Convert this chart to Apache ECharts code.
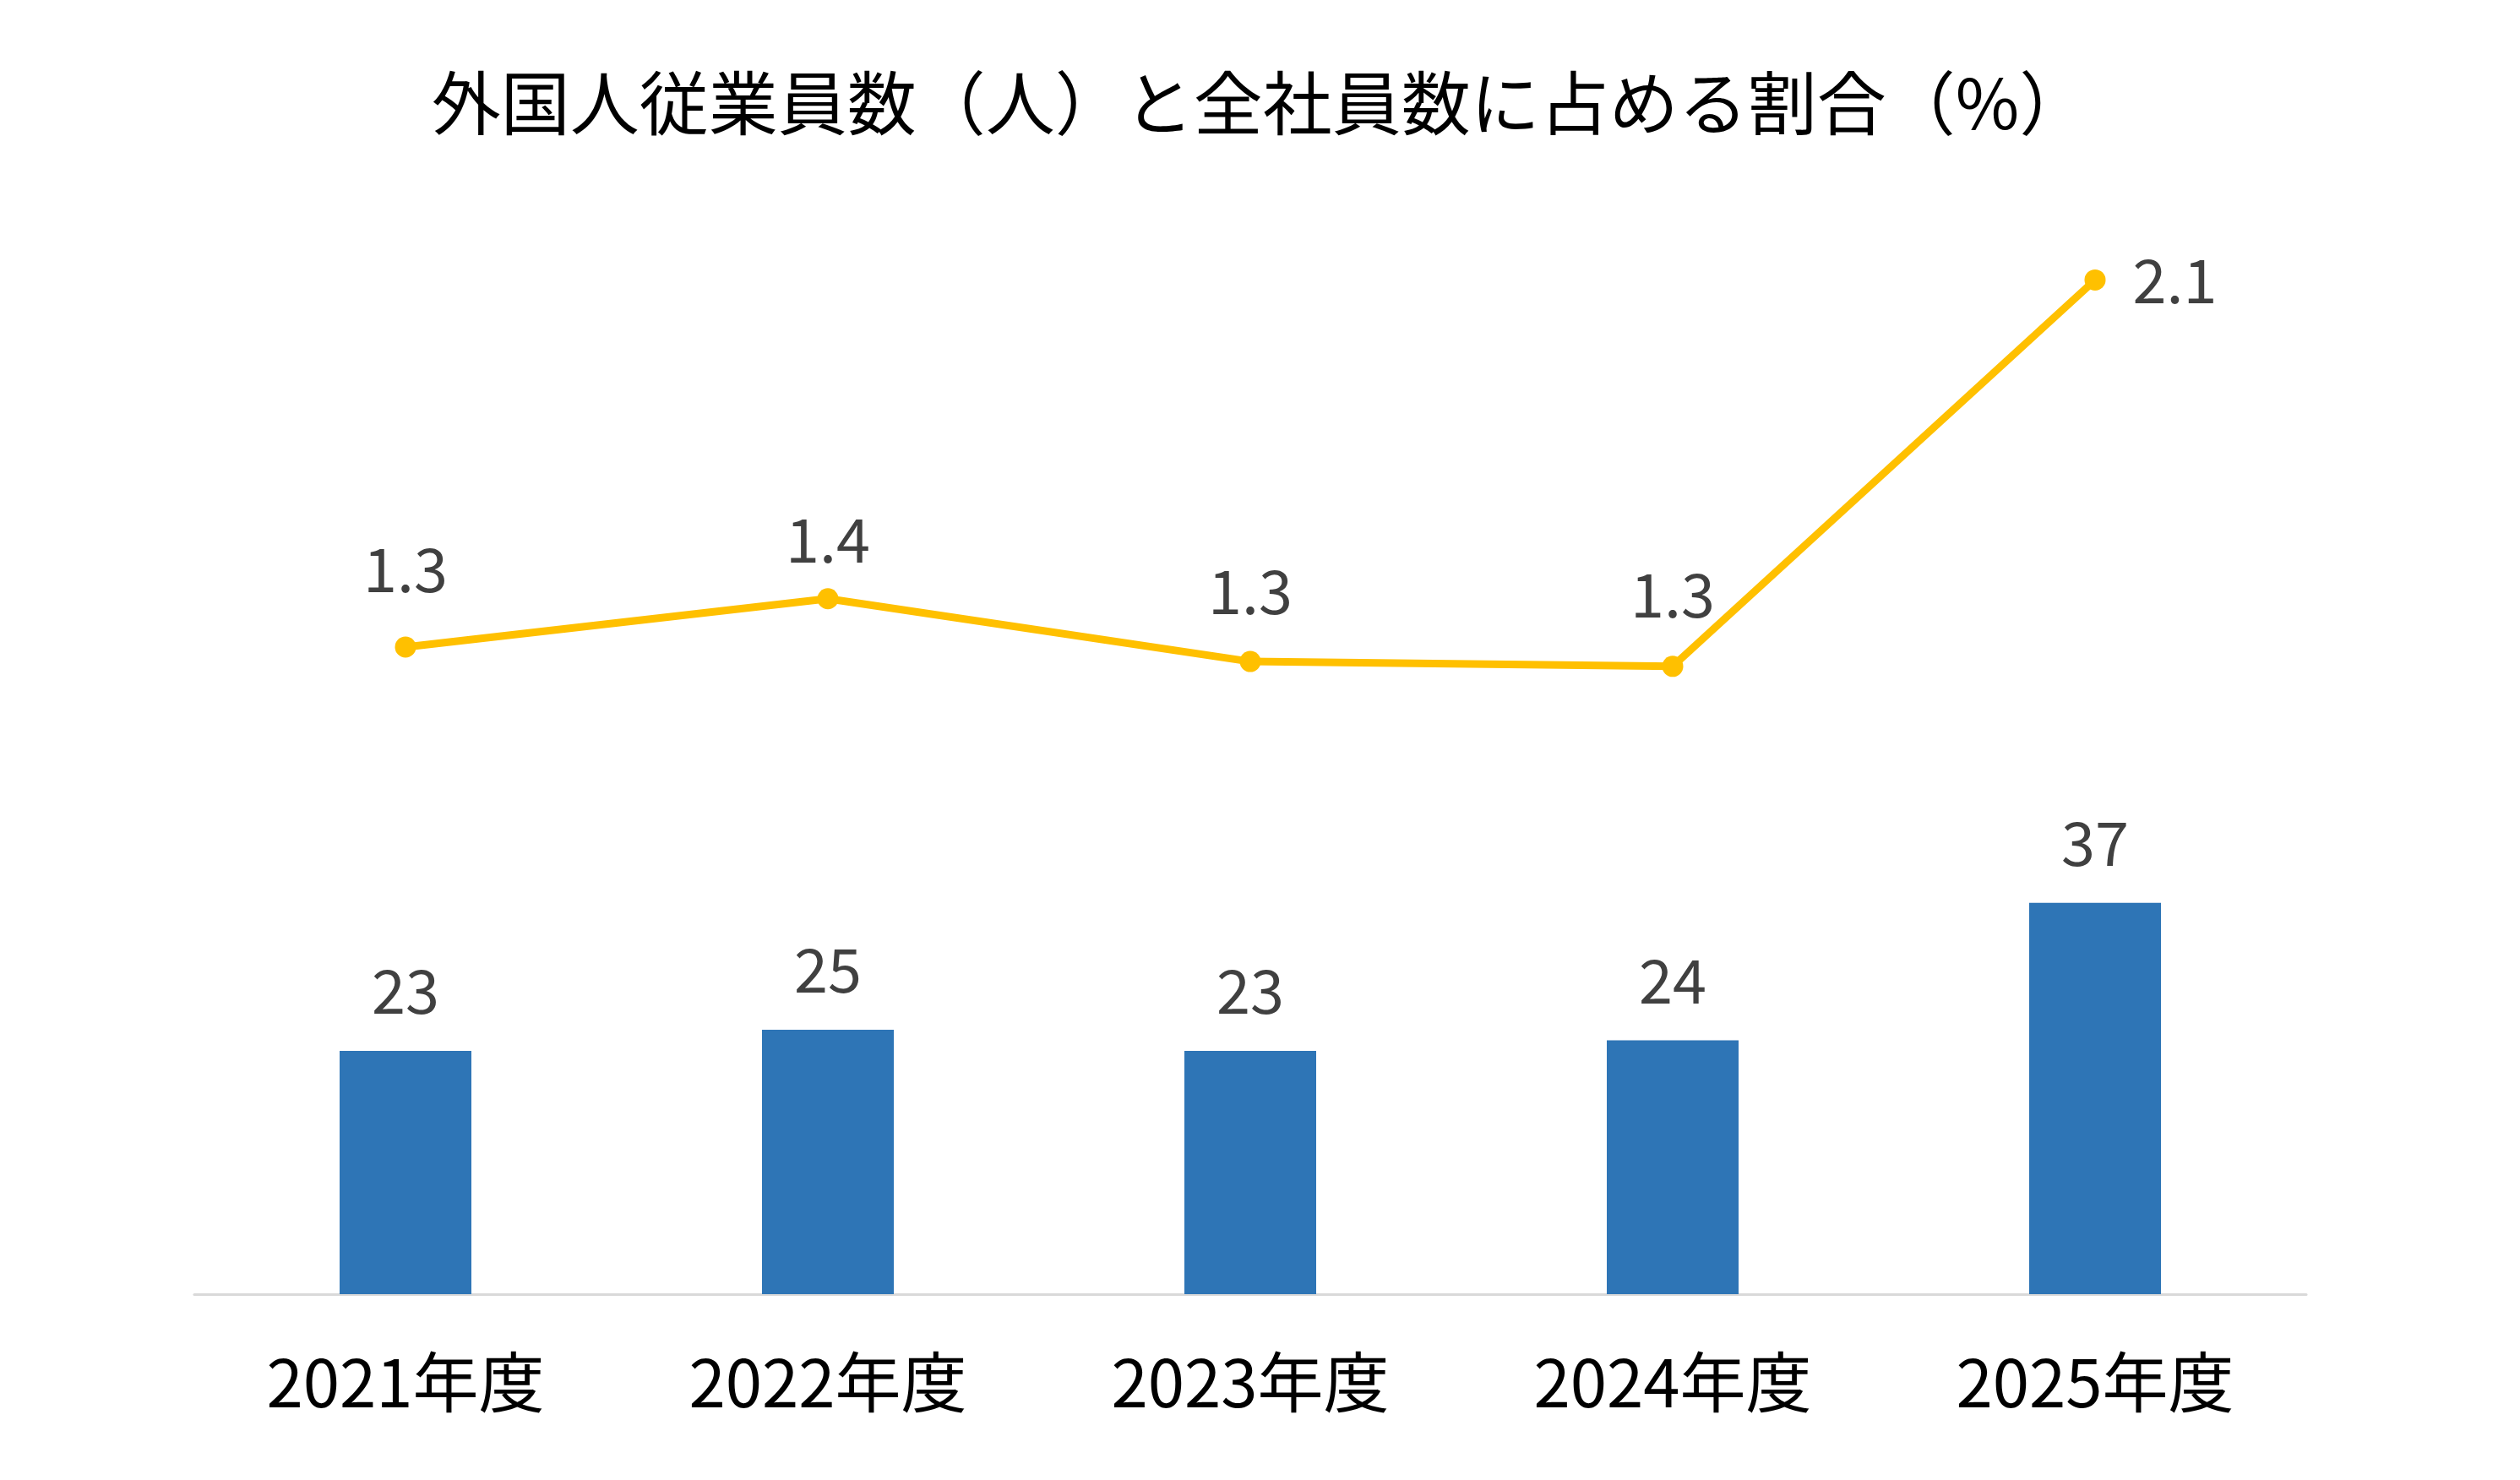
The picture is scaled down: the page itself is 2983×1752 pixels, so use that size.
<!DOCTYPE html>
<html>
<head>
<meta charset="utf-8">
<script src="https://cdn.jsdelivr.net/npm/echarts@6/dist/echarts.min.js"></script>
<style>
  html, body { margin: 0; padding: 0; background: #fff; }
  #main { width: 2983px; height: 1752px; }
</style>
</head>
<body>
<div id="main"></div>
<script>
// 年度
var categories = ['2021年度', '2022年度', '2023年度', '2024年度', '2025年度'];
// 外国人従業員数（人）
var foreignStaff = [23, 25, 23, 24, 37];
// 全社員数に占める割合（%）
var foreignRatio = [1.34, 1.44, 1.31, 1.30, 2.10];

var myChart = echarts.init(document.getElementById('main'));

var FONT = '"Noto Sans CJK JP", "Noto Sans", sans-serif';

// 割合ラベルの位置（元の図に合わせて少しずつ違う）
var ratioLabelDist = [44, 22, 35, 37];

myChart.setOption({
    animation: false,
    backgroundColor: '#ffffff',
    title: {
        text: '外国人従業員数（人）と全社員数に占める割合（%）',
        left: 'center',
        top: 76,
        textStyle: {
            fontFamily: FONT,
            fontSize: 82,
            fontWeight: 'normal',
            color: '#000000'
        }
    },
    grid: {
        left: 230,
        right: 253,
        top: 280,
        bottom: 220
    },
    xAxis: {
        type: 'category',
        data: categories,
        axisLine: {
            lineStyle: { color: '#d9d9d9', width: 3 }
        },
        axisTick: { show: false },
        axisLabel: {
            margin: 65,
            fontFamily: FONT,
            fontSize: 78,
            color: '#000000'
        }
    },
    yAxis: [{
        // 人数の軸（非表示）
        type: 'value',
        min: 0,
        max: 100,
        show: false,
        splitLine: { show: false }
    }, {
        // 割合の軸（非表示）
        type: 'value',
        min: 0,
        max: 2.19,
        show: false,
        splitLine: { show: false }
    }],
    series: [{
        name: '外国人従業員数',
        type: 'bar',
        yAxisIndex: 0,
        data: foreignStaff,
        barWidth: 156,
        itemStyle: { color: '#2e75b6' },
        label: {
            show: true,
            position: 'top',
            distance: 35,
            fontFamily: FONT,
            fontSize: 72,
            color: '#404040'
        }
    }, {
        name: '割合',
        type: 'line',
        yAxisIndex: 1,
        data: foreignRatio.map(function (v, i) {
            var last = i === foreignRatio.length - 1;
            return {
                value: v,
                label: last
                    ? { position: 'right', distance: 32 }
                    : { position: 'top', distance: ratioLabelDist[i] }
            };
        }),
        symbol: 'circle',
        symbolSize: 25,
        lineStyle: { color: '#ffc000', width: 9 },
        itemStyle: { color: '#ffc000' },
        label: {
            show: true,
            fontFamily: FONT,
            fontSize: 72,
            color: '#404040',
            formatter: function (p) {
                return p.value.toFixed(1);
            }
        }
    }]
});
</script>
</body>
</html>
